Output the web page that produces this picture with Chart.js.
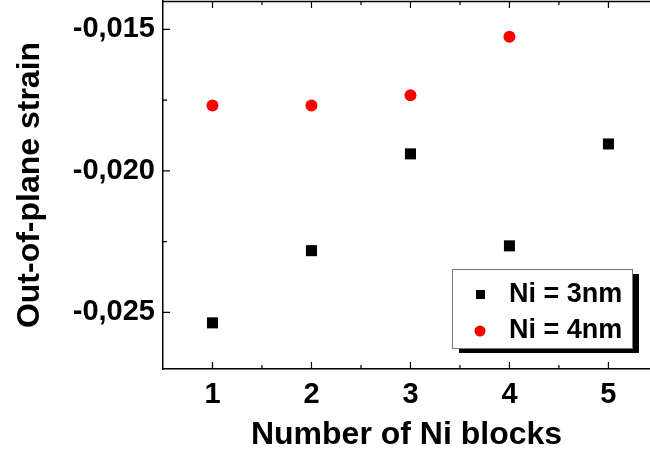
<!DOCTYPE html>
<html>
<head>
<meta charset="utf-8">
<script src="https://cdn.jsdelivr.net/npm/chart.js@4/dist/chart.umd.min.js"></script>
<style>
  html, body { margin: 0; padding: 0; background: #fff; }
  #c { display: block; }
</style>
</head>
<body>
<canvas id="c" width="650" height="457"></canvas>
<script>
// data
const blocks = [1, 2, 3, 4, 5];
const strain3nm = [-0.02537, -0.02282, -0.01940, -0.02265, -0.01905];
const blocks4nm = [1, 2, 3, 4];
const strain4nm = [-0.01769, -0.01769, -0.01733, -0.01526];

const xTicks = [1, 2, 3, 4, 5];
const xMinorTicks = [1.5, 2.5, 3.5, 4.5];
const yTicks = [-0.025, -0.020, -0.015];
const yTickLabels = ['-0,025', '-0,020', '-0,015'];
const yMinorTicks = [-0.0225, -0.0175];

const FONT = 'Arial, "Liberation Sans", sans-serif';

// inward ticks, top border and the boxed legend with shadow
const framePlugin = {
    id: 'frame',
    afterDraw(chart) {
        const ctx = chart.ctx;
        const a = chart.chartArea;
        const xs = chart.scales.x, ys = chart.scales.y;
        ctx.save();
        ctx.strokeStyle = '#000';
        ctx.lineWidth = 1.5;
        // top line
        ctx.beginPath();
        ctx.moveTo(a.left, a.top + 0.5);
        ctx.lineTo(a.right, a.top + 0.5);
        ctx.stroke();
        ctx.lineWidth = 1.2;
        ctx.beginPath();
        xTicks.forEach(v => {
            const px = xs.getPixelForValue(v);
            ctx.moveTo(px, a.bottom); ctx.lineTo(px, a.bottom - 7);
            ctx.moveTo(px, a.top); ctx.lineTo(px, a.top + 7);
        });
        xMinorTicks.forEach(v => {
            const px = xs.getPixelForValue(v);
            ctx.moveTo(px, a.bottom); ctx.lineTo(px, a.bottom - 4);
            ctx.moveTo(px, a.top); ctx.lineTo(px, a.top + 4);
        });
        yTicks.forEach(v => {
            const py = ys.getPixelForValue(v);
            ctx.moveTo(a.left, py); ctx.lineTo(a.left + 7, py);
        });
        yMinorTicks.forEach(v => {
            const py = ys.getPixelForValue(v);
            ctx.moveTo(a.left, py); ctx.lineTo(a.left + 4, py);
        });
        ctx.stroke();

        // legend
        const bx = 452, by = 269, bw = 180, bh = 79;
        ctx.fillStyle = '#000';
        ctx.fillRect(bx + 7, by + 5, bw, bh);
        ctx.fillStyle = '#fff';
        ctx.fillRect(bx, by, bw, bh);
        ctx.strokeStyle = '#777';
        ctx.lineWidth = 1;
        ctx.strokeRect(bx + 0.5, by + 0.5, bw, bh);

        const ds = chart.data.datasets;
        const rows = [294, 330];
        ctx.font = 'bold 27px ' + FONT;
        ctx.textBaseline = 'middle';
        ctx.textAlign = 'left';
        ds.forEach((d, i) => {
            const y = rows[i];
            ctx.fillStyle = d.backgroundColor;
            if (d.pointStyle === 'rect') {
                ctx.fillRect(476, y - 4, 9, 9);
            } else {
                ctx.beginPath();
                ctx.arc(480, y + 1, 5.5, 0, Math.PI * 2);
                ctx.fill();
            }
            ctx.fillStyle = '#000';
            ctx.fillText(d.label, 509, y + 1);
        });
        ctx.restore();
    }
};

new Chart(document.getElementById('c'), {
    type: 'scatter',
    data: {
        datasets: [{
            label: 'Ni = 3nm',
            data: blocks.map((b, i) => ({ x: b, y: strain3nm[i] })),
            pointStyle: 'rect',
            pointRadius: 7.8,
            backgroundColor: '#000',
            borderColor: '#000',
            borderWidth: 0
        }, {
            label: 'Ni = 4nm',
            data: blocks4nm.map((b, i) => ({ x: b, y: strain4nm[i] })),
            pointStyle: 'circle',
            pointRadius: 6,
            backgroundColor: '#ff0000',
            borderColor: '#ff0000',
            borderWidth: 0
        }]
    },
    options: {
        responsive: false,
        animation: false,
        events: [],
        layout: { autoPadding: false, padding: { left: 0, top: 1, right: 0, bottom: 0 } },
        plugins: { legend: { display: false }, tooltip: { enabled: false } },
        scales: {
            x: {
                type: 'linear',
                min: 0.5,
                max: 5.42,
                afterBuildTicks: s => { s.ticks = xTicks.map(v => ({ value: v })); },
                afterFit: s => { s.height = 88; s.paddingLeft = 0; s.paddingRight = 0; },
                grid: { drawOnChartArea: false, drawTicks: false },
                border: { color: '#000', width: 1.5 },
                ticks: {
                    color: '#000',
                    padding: 9,
                    font: { family: FONT, size: 29, weight: 'bold' },
                    callback: v => String(v)
                },
                title: {
                    display: true,
                    text: 'Number of Ni blocks',
                    color: '#000',
                    padding: { top: 0, bottom: 3 },
                    font: { family: FONT, size: 32, weight: 'bold' }
                }
            },
            y: {
                min: -0.027,
                max: -0.014,
                afterBuildTicks: s => { s.ticks = yTicks.map(v => ({ value: v })); },
                afterFit: s => { s.width = 163; s.paddingTop = 0; s.paddingBottom = 0; },
                grid: { drawOnChartArea: false, drawTicks: false },
                border: { color: '#000', width: 1.5 },
                ticks: {
                    color: '#000',
                    padding: 8,
                    font: { family: FONT, size: 29, weight: 'bold' },
                    callback: v => yTickLabels[yTicks.findIndex(t => Math.abs(t - v) < 1e-9)]
                },
                title: {
                    display: true,
                    text: 'Out-of-plane strain',
                    color: '#000',
                    padding: { top: 11, bottom: 0 },
                    font: { family: FONT, size: 32, weight: 'bold' }
                }
            }
        }
    },
    plugins: [framePlugin]
});
</script>
</body>
</html>
